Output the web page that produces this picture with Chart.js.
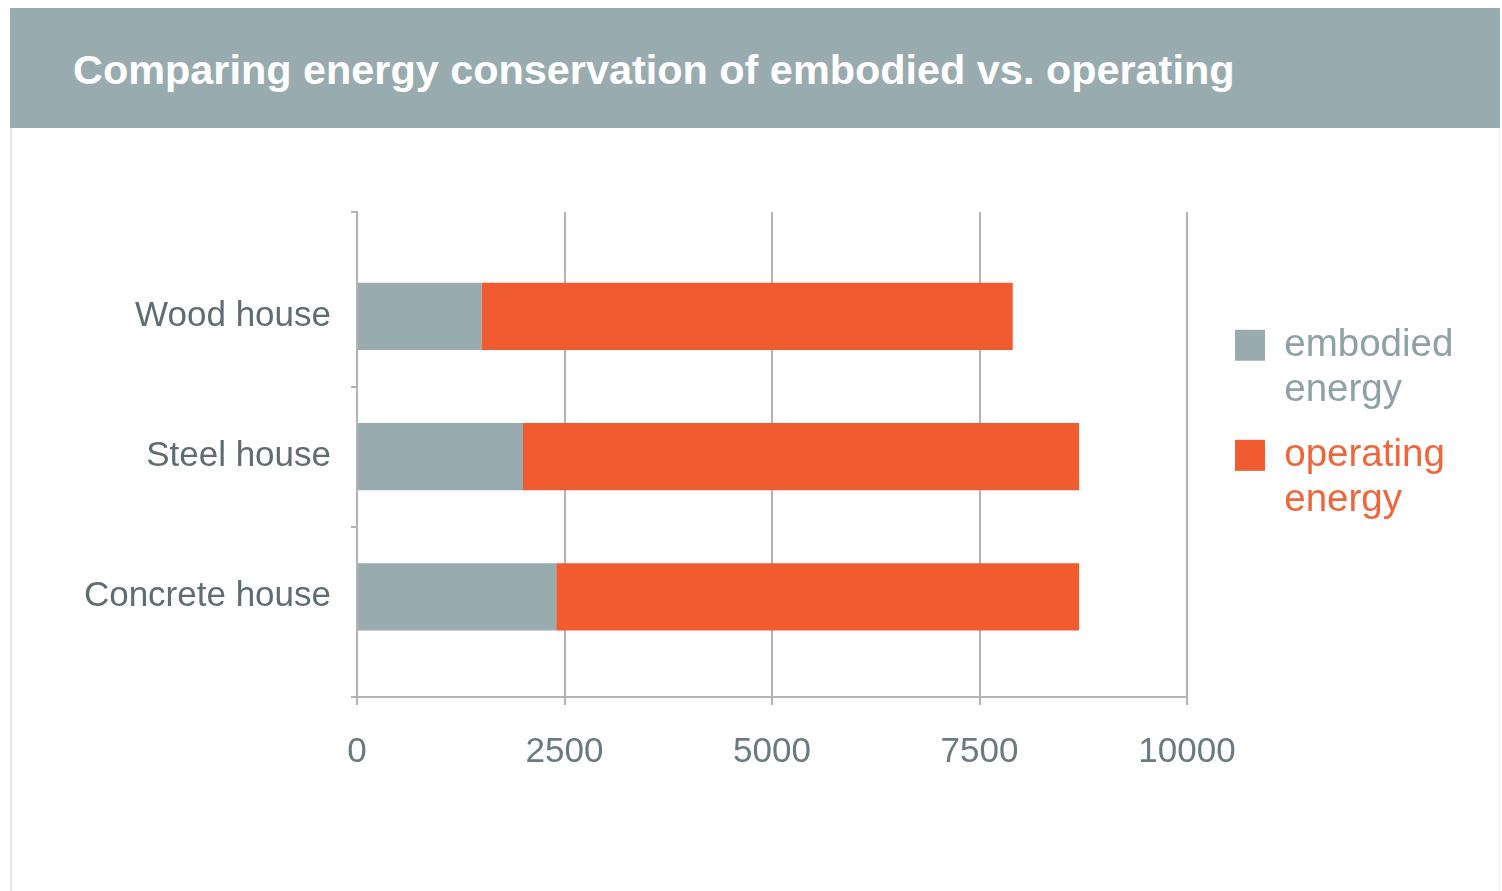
<!DOCTYPE html>
<html>
<head>
<meta charset="utf-8">
<title>Comparing energy conservation</title>
<script src="https://cdn.jsdelivr.net/npm/chart.js@4.4.1/dist/chart.umd.min.js"></script>
<style>
  body {
    margin: 0;
    background: #ffffff;
    font-family: "Liberation Sans", Arial, sans-serif;
  }
  #frame {
    position: absolute;
    left: 10px;
    top: 8px;
    width: 1490px;
    height: 883px;
    border-left: 2px solid #e2e7e8;
    border-right: 1px solid #eef1f1;
    box-sizing: border-box;
  }
  #header {
    position: absolute;
    left: 10px;
    top: 8px;
    width: 1490px;
    height: 120px;
    background: #98abaf;
    color: #ffffff;
    font-weight: bold;
    font-size: 41.4px;
    line-height: 124px;
    padding-left: 63px;
    box-sizing: border-box;
    white-space: nowrap;
  }
  #grafik {
    position: absolute;
    left: 10px;
    top: 128px;
  }
</style>
</head>
<body>
<div id="frame"></div>
<div id="header">Comparing energy conservation of embodied vs. operating</div>
<canvas id="grafik" width="1490" height="763"></canvas>
<script>
const houses = ["Wood house", "Steel house", "Concrete house"];
const embodiedEnergy = [1500, 2000, 2400];
const operatingEnergy = [6400, 6700, 6300];
const seriesNames = [["embodied", "energy"], ["operating", "energy"]];
const xTicks = [0, 2500, 5000, 7500, 10000];

const grayBar = "#98abaf";
const orangeBar = "#f05b2f";
const legendColors = ["#8ea1a5", "#f0653a"];
const gridColor = "#b3b3b3";

// y axis runs a bit past the outer bars on both ends
const yMin = -0.745;
const yMax = 2.715;

// bars sit on a numeric y axis so the ends of the axis can run past the outer bars
function toPoints(values) {
  return values.map((v, i) => ({ x: v, y: i }));
}

(function () {
  const canvas = document.querySelector("#grafik");
  new Chart(canvas, {
    type: "bar",
    data: {
      datasets: [
        {
          label: "embodied energy",
          data: toPoints(embodiedEnergy),
          backgroundColor: grayBar,
          // width is taken from the half-step tick spacing on y
          categoryPercentage: 1,
          barPercentage: 0.96,
        },
        {
          label: "operating energy",
          data: toPoints(operatingEnergy),
          backgroundColor: orangeBar,
          categoryPercentage: 1,
          barPercentage: 0.96,
        },
      ],
    },
    options: {
      indexAxis: "y",
      responsive: false,
      animation: false,
      devicePixelRatio: 1,
      layout: {
        padding: { top: 84, left: 0, right: 44, bottom: 0 },
      },
      scales: {
        x: {
          stacked: true,
          min: 0,
          max: 10000,
          afterBuildTicks: (scale) => {
            scale.ticks = xTicks.map((value) => ({ value }));
          },
          afterFit: (scale) => {
            scale.height = 194;
          },
          grid: {
            color: gridColor,
            lineWidth: 2,
            tickLength: 8,
          },
          border: { display: true, color: gridColor, width: 2 },
          ticks: {
            padding: 26,
            color: "#6a7b80",
            font: { family: "Liberation Sans", size: 35 },
            callback: (value) => String(value),
          },
        },
        y: {
          type: "linear",
          stacked: true,
          reverse: true,
          offset: false,
          min: yMin,
          max: yMax,
          afterBuildTicks: (scale) => {
            const ticks = [{ value: yMin }];
            houses.forEach((h, i) => {
              ticks.push({ value: i });
              ticks.push({ value: i + 0.5 });
            });
            ticks[ticks.length - 1] = { value: yMax };
            scale.ticks = ticks;
          },
          afterFit: (scale) => {
            scale.width = 347;
          },
          grid: {
            offset: false,
            drawOnChartArea: false,
            tickLength: 6,
            lineWidth: 2,
            tickColor: (ctx) =>
              ctx.tick && Number.isInteger(ctx.tick.value) ? "rgba(0,0,0,0)" : gridColor,
          },
          border: { display: true, color: gridColor, width: 2 },
          ticks: {
            padding: 20,
            color: "#5d6d72",
            font: { family: "Liberation Sans", size: 35 },
            callback: (value) => (Number.isInteger(value) ? houses[value] : ""),
          },
        },
        gap: {
          type: "linear",
          position: "right",
          grid: { display: false, drawTicks: false },
          border: { display: false },
          ticks: { display: false },
          afterFit: (scale) => {
            scale.width = 28;
          },
        },
      },
      plugins: {
        legend: {
          position: "right",
          align: "start",
          fullSize: false,
          title: {
            display: true,
            text: " ",
            font: { size: 10 },
            padding: { top: 0, bottom: 82 },
          },
          labels: {
            boxWidth: 30,
            boxHeight: 31,
            padding: 20,
            font: { family: "Liberation Sans", size: 38.5, lineHeight: 1.17 },
            generateLabels: (chart) =>
              chart.data.datasets.map((ds, i) => ({
                text: seriesNames[i],
                fillStyle: ds.backgroundColor,
                strokeStyle: ds.backgroundColor,
                lineWidth: 0,
                fontColor: legendColors[i],
                datasetIndex: i,
                hidden: !chart.isDatasetVisible(i),
              })),
          },
        },
        tooltip: { enabled: false },
      },
    },
  });
})();
</script>
</body>
</html>
